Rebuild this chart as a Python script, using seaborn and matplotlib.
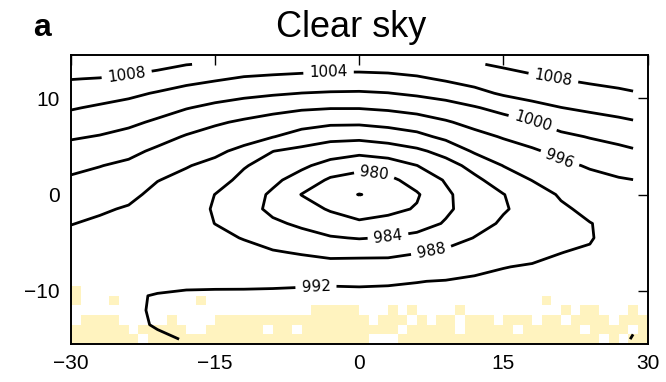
import numpy as np
import matplotlib
matplotlib.use("Agg")
import matplotlib.pyplot as plt
import seaborn as sns
from matplotlib.colors import ListedColormap

sns.set_style("white")
plt.rcParams["font.family"] = ["DejaVu Sans"]
plt.rcParams["axes.unicode_minus"] = True
plt.rcParams["text.color"] = "black"

# ---------------------------------------------------------------
# Composite sea-level pressure (hPa), storm-relative coordinates (deg)
# ---------------------------------------------------------------
lon = [-30, -27, -24, -21, -18, -15, -12, -9, -6, -3, 0, 3, 6, 9, 12, 15,
       18, 21, 24, 27, 28.5]
lat = [-15.0, -13.5, -12.0, -10.5, -9.0, -7.5, -6.0, -4.5, -3.0, -1.5, 0.0,
       1.5, 3.0, 4.5, 6.0, 7.5, 9.0, 10.5, 12.0, 13.5]

# one column of pressure per longitude, listed from south to north
slp_w30 = [991.3, 991.2, 991.2, 991.3, 991.3, 991.2, 991.1, 991.2, 992.1, 993.2,
           994.3, 995.5, 996.9, 998.6, 1000.4, 1002.4, 1004.3, 1006.2, 1008.1, 1010.0]
slp_w27 = [991.4, 991.3, 991.3, 991.4, 991.4, 991.3, 991.2, 991.2, 991.5, 992.4,
           993.6, 994.9, 996.1, 997.9, 999.8, 1001.6, 1003.5, 1005.6, 1007.85, 1010.1]
slp_w24 = [991.6, 991.6, 991.55, 991.9, 991.7, 991.5, 991.4, 991.35, 991.4, 991.7,
           992.8, 994.1, 995.3, 996.9, 998.8, 1000.8, 1002.7, 1004.8, 1007.3, 1009.8]
slp_w21 = [991.7, 992.15, 992.3, 992.05, 991.75, 991.45, 991.1, 990.8, 990.5, 990.2,
           991.1, 992.1, 993.7, 995.35, 997.3, 999.4, 1001.6, 1003.7, 1006.4, 1009.1]
slp_w18 = [992.1, 992.3, 992.4, 992.2, 991.7, 991.1, 990.6, 990.1, 989.6, 989.2,
           990.1, 991.1, 992.2, 993.9, 995.7, 997.85, 1000.2, 1002.6, 1005.2, 1008.1]
slp_w15 = [993.0, 992.8, 992.5, 992.2, 991.75, 991.0, 990.0, 989.0, 987.95, 987.75,
           987.95, 989.5, 991.1, 992.7, 994.5, 996.5, 999.1, 1001.7, 1004.4, 1007.6]
slp_w12 = [993.2, 992.9, 992.6, 992.25, 991.7, 990.6, 989.3, 987.8, 986.8, 985.8,
           985.9, 987.0, 988.3, 991.1, 993.4, 995.45, 998.1, 1001.0, 1003.6, 1006.3]
slp_w09 = [993.4, 993.0, 992.7, 992.3, 991.7, 990.3, 988.3, 986.5, 984.7, 983.0,
           983.4, 984.8, 986.4, 988.05, 992.15, 994.5, 997.2, 1000.45, 1003.2, 1006.1]
slp_w06 = [993.6, 993.2, 992.8, 992.35, 991.75, 989.6, 987.7, 985.4, 983.3, 981.6,
           979.9, 982.4, 984.7, 987.0, 990.3, 993.6, 996.5, 999.95, 1002.9, 1005.8]
slp_w03 = [993.7, 993.3, 992.9, 992.4, 991.8, 989.5, 986.9, 984.3, 981.9, 979.6,
           977.6, 979.4, 982.6, 985.9, 989.1, 992.8, 996.2, 999.7, 1002.6, 1005.6]
slp_000 = [993.6, 993.2, 992.8, 992.4, 991.75, 989.6, 986.95, 983.8, 980.6, 978.2,
           975.9, 978.4, 981.25, 985.1, 989.0, 992.7, 996.2, 999.6, 1002.6, 1005.6]
slp_e03 = [993.8, 993.4, 992.9, 992.45, 991.8, 989.5, 987.1, 984.2, 981.3, 979.0,
           977.0, 979.0, 982.0, 985.9, 989.75, 993.3, 996.65, 999.9, 1002.8, 1005.8]
slp_e06 = [993.9, 993.5, 993.0, 992.5, 991.95, 990.3, 987.8, 984.95, 982.5, 980.3,
           979.6, 981.6, 983.95, 987.25, 990.9, 994.2, 997.4, 1000.6, 1003.4, 1006.4]
slp_e09 = [994.0, 993.6, 993.1, 992.6, 992.1, 990.8, 988.6, 986.5, 984.3, 983.4,
           983.35, 984.3, 986.5, 989.3, 992.9, 995.6, 998.5, 1001.4, 1004.5, 1007.5]
slp_e12 = [994.1, 993.7, 993.2, 992.7, 992.25, 991.6, 989.9, 988.1, 986.85, 985.6,
           986.0, 987.2, 989.2, 992.5, 994.8, 997.2, 999.7, 1002.9, 1005.5, 1007.7]
slp_e15 = [994.2, 993.8, 993.3, 992.85, 992.4, 991.95, 990.75, 989.6, 988.4, 987.75,
           987.9, 989.8, 992.1, 994.2, 996.3, 998.5, 1001.2, 1004.5, 1006.5, 1008.5]
slp_e18 = [994.3, 993.9, 993.4, 992.9, 992.5, 992.15, 991.5, 990.7, 990.0, 989.0,
           990.0, 992.1, 993.8, 995.5, 997.6, 999.85, 1002.9, 1005.3, 1007.3, 1009.4]
slp_e21 = [994.3, 993.9, 993.5, 993.0, 992.6, 992.3, 991.98, 991.2, 990.85, 991.4,
           992.45, 993.9, 995.3, 997.0, 999.2, 1001.55, 1003.95, 1006.0, 1008.05, 1010.0]
slp_e24 = [994.4, 994.0, 993.6, 993.2, 992.8, 992.45, 992.2, 991.85, 991.9, 992.9,
           994.0, 995.1, 996.3, 998.3, 1000.2, 1002.5, 1004.7, 1006.7, 1008.7, 1010.7]
slp_e27 = [995.2, 994.8, 994.3, 993.9, 993.5, 993.2, 993.0, 992.9, 993.0, 993.9,
           994.8, 995.7, 997.25, 999.1, 1001.1, 1003.3, 1005.3, 1007.3, 1009.3, 1011.3]
slp_e285 = [996.2, 995.6, 995.0, 994.5, 994.1, 993.7, 993.4, 993.3, 993.4, 994.25,
            995.1, 995.95, 997.75, 999.6, 1001.65, 1003.7, 1005.7, 1007.7, 1009.7, 1011.7]

core_levels = [976]
labelled_levels = [980, 984, 988, 992, 996, 1000, 1004, 1008]

# flagged 1-deg boxes along the southern edge: west edge (deg) of each box, per row
flag_m10 = [-30]
flag_m11 = [-30, -26, -17, 19]
flag_m12 = [-5, -4, -3, -2, -1, 3, 5, 10, 21, 23, 24, 28]
flag_m13 = [-29, -28, -27, -26, -20, -15, -14, -13, -12, -11, -10, -9, -8, -7,
            -6, -5, -4, -3, -2, -1, 0, 2, 3, 4, 6, 8, 9, 11, 12, 13, 15, 16, 17,
            19, 20, 22, 23, 24, 25, 27, 28, 29]
flag_m14 = [-30, -29, -28, -27, -26, -25, -23, -22, -21, -20, -19, -16, -15, -14,
            -13, -12, -11, -9, -8, -6, -5, -4, -3, -2, -1, 0, 1, 2, 3, 5, 6, 7,
            8, 9, 11, 12, 13, 14, 15, 17, 18, 19, 20, 21, 22, 24, 25, 26, 27, 29]
flag_m15 = [-30, -29, -28, -27, -26, -25, -24, -22, -21, -20, -19, -18, -17,
            -16, -15, -14, -13, -12, -11, -10, -9, -8, -7, -6, -5, -4, -3, -2,
            -1, 0, 4, 5, 6, 7, 8, 9, 10, 11, 12, 13, 14, 15, 16, 17, 18, 19, 20,
            21, 22, 23, 24, 26, 28, 29]
flag_rows_lat = [-15, -14, -13, -12, -11, -10]

xticks = [-30, -15, 0, 15, 30]
xtick_labels = ["\u221230", "\u221215", "0", "15", "30"]
yticks = [-10, 0, 10]
ytick_labels = ["\u221210", "0", "10"]
title = "Clear sky"
panel = "a"

# ---------------------------------------------------------------
slp = np.column_stack([slp_w30, slp_w27, slp_w24, slp_w21, slp_w18, slp_w15,
                       slp_w12, slp_w09, slp_w06, slp_w03, slp_000, slp_e03,
                       slp_e06, slp_e09, slp_e12, slp_e15, slp_e18, slp_e21,
                       slp_e24, slp_e27, slp_e285])

cell_x = np.arange(-30, 31, 1)
cell_y = np.array(flag_rows_lat + [flag_rows_lat[-1] + 1]) - 0.5
flag = np.zeros((len(flag_rows_lat), len(cell_x) - 1))
for r, row in enumerate([flag_m15, flag_m14, flag_m13, flag_m12, flag_m11, flag_m10]):
    for west in row:
        flag[r, west + 30] = 1.0
flag = np.ma.masked_equal(flag, 0.0)

W, H = 666, 382
fig = plt.figure(figsize=(W / 100, H / 100), dpi=100)
ax = fig.add_axes([71 / W, 1 - 344 / H, (647.5 - 71) / W, (344 - 54.7) / H])

ax.pcolormesh(cell_x, cell_y, flag, cmap=ListedColormap(["#fff3bf"]),
              shading="flat", zorder=1)

ax.contour(lon, lat, slp, levels=core_levels, colors="k", linewidths=2.0, zorder=3)
cs = ax.contour(lon, lat, slp, levels=labelled_levels, colors="k",
                linewidths=2.0, zorder=3)
label_pos = [(-24.2, 12.4), (-3.2, 12.8), (20.2, 12.1), (18.1, 7.6),
             (21.0, 4.0), (1.6, 2.4), (3.0, -4.4), (7.5, -5.9), (-4.5, -9.7)]
ax.clabel(cs, manual=label_pos, fmt="%d", fontsize=11, inline=True,
          inline_spacing=6, colors="k")

ax.set_xlim(-30, 30)
ax.set_ylim(-15.5, 14.5)
ax.set_xticks(xticks)
ax.set_xticklabels(xtick_labels)
ax.set_yticks(yticks)
ax.set_yticklabels(ytick_labels)
ax.tick_params(direction="in", top=True, right=True, length=7, width=1.0,
               labelsize=15, colors="k", labelfontfamily="Liberation Sans")
ax.tick_params(axis="x", pad=7)
ax.tick_params(axis="y", pad=8)
for s in ax.spines.values():
    s.set_linewidth(1.4)
    s.set_color("k")
    s.set_zorder(5)

fig.text(351 / W, 1 - 37 / H, title, ha="center", va="baseline", fontsize=26,
         fontfamily="Liberation Sans", color="black")
fig.text(33 / W, 1 - 35.5 / H, panel, ha="left", va="baseline", fontsize=23,
         fontweight="bold", fontfamily="Liberation Sans", color="black")

fig.savefig("out.png", dpi=100)
